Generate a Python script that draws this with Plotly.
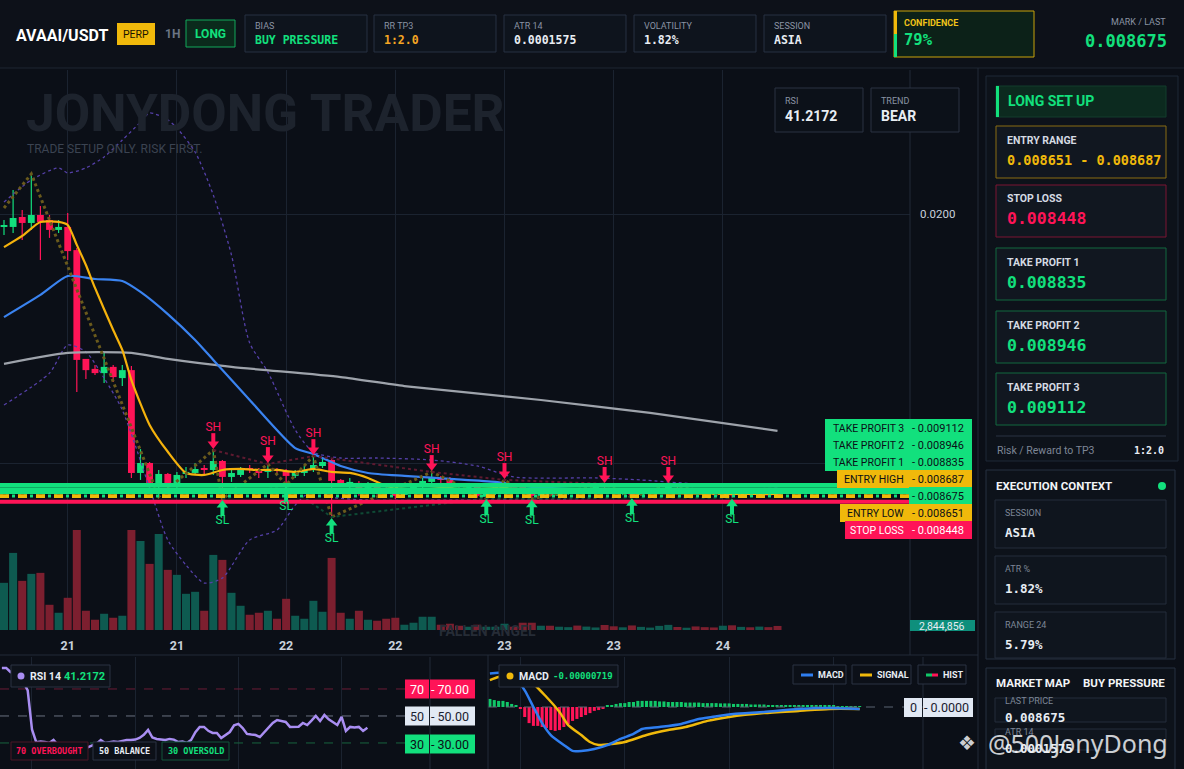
import plotly.graph_objects as go

W, H = 1184, 769
BG = "#0b0f17"
GRID = "#1b2330"
UP = "#12e07d"
DN = "#ff1457"
YEL = "#f0b90b"
SANS = "Roboto, Liberation Sans, sans-serif"
MONO = "DejaVu Sans Mono, monospace"

# ---- 1H candles, oldest first ----
opens = [0.01948, 0.01948, 0.01988, 0.01964, 0.01996, 0.01976, 0.01936, 0.01948, 0.01855, 0.01418,
         0.01378, 0.01361, 0.01386, 0.01341, 0.01373, 0.00960, 0.01000, 0.00912, 0.00956, 0.00912,
         0.00956, 0.00960, 0.00978, 0.00972, 0.01008, 0.00944, 0.00952, 0.00978, 0.00968, 0.00964,
         0.00974, 0.00968, 0.00948, 0.00960, 0.00972, 0.00988, 0.01012, 0.00932, 0.00916, 0.00920,
         0.00900, 0.00908, 0.00896, 0.00884, 0.00872, 0.00892, 0.00904, 0.00924, 0.00940, 0.00936,
         0.00908, 0.00900, 0.00904, 0.00864, 0.00880, 0.00888, 0.00912, 0.00904, 0.00884, 0.00868,
         0.00876, 0.00868, 0.00880, 0.00888, 0.00882, 0.00896, 0.00900, 0.00892, 0.00880, 0.00884,
         0.00872, 0.00884, 0.00890, 0.00896, 0.00900, 0.00888, 0.00892, 0.00884, 0.00880, 0.00876,
         0.00884, 0.00870, 0.00878, 0.00872, 0.00880, 0.00870]
highs = [0.01976, 0.02096, 0.02016, 0.02161, 0.02032, 0.01996, 0.01976, 0.02004, 0.01863, 0.01418,
         0.01394, 0.01446, 0.01394, 0.01394, 0.01390, 0.01056, 0.01004, 0.00972, 0.00960, 0.00964,
         0.00984, 0.01000, 0.00992, 0.01052, 0.01012, 0.00980, 0.00984, 0.00992, 0.00980, 0.00996,
         0.00980, 0.00976, 0.00972, 0.00988, 0.01028, 0.01020, 0.01020, 0.00936, 0.00940, 0.00928,
         0.00924, 0.00916, 0.00904, 0.00892, 0.00900, 0.00912, 0.00944, 0.00964, 0.00948, 0.00944,
         0.00916, 0.00912, 0.00912, 0.00892, 0.00896, 0.00932, 0.00920, 0.00912, 0.00892, 0.00884,
         0.00884, 0.00884, 0.00896, 0.00900, 0.00904, 0.00908, 0.00916, 0.00900, 0.00890, 0.00888,
         0.00888, 0.00896, 0.00904, 0.00916, 0.00906, 0.00896, 0.00900, 0.00892, 0.00890, 0.00888,
         0.00890, 0.00882, 0.00886, 0.00884, 0.00886, 0.00880]
lows = [0.01916, 0.01924, 0.01896, 0.01936, 0.01815, 0.01904, 0.01924, 0.01815, 0.01285, 0.01337,
        0.01353, 0.01321, 0.01325, 0.01309, 0.00940, 0.00932, 0.00900, 0.00864, 0.00880, 0.00892,
        0.00940, 0.00952, 0.00952, 0.00952, 0.00855, 0.00924, 0.00944, 0.00960, 0.00940, 0.00940,
        0.00956, 0.00912, 0.00940, 0.00948, 0.00964, 0.00980, 0.00783, 0.00904, 0.00900, 0.00868,
        0.00892, 0.00872, 0.00860, 0.00855, 0.00864, 0.00884, 0.00896, 0.00916, 0.00920, 0.00892,
        0.00896, 0.00892, 0.00860, 0.00858, 0.00872, 0.00880, 0.00892, 0.00868, 0.00856, 0.00864,
        0.00866, 0.00864, 0.00872, 0.00876, 0.00876, 0.00884, 0.00886, 0.00876, 0.00870, 0.00862,
        0.00868, 0.00876, 0.00882, 0.00888, 0.00884, 0.00878, 0.00880, 0.00872, 0.00870, 0.00868,
        0.00860, 0.00864, 0.00868, 0.00866, 0.00866, 0.00864]
closes = [0.01952, 0.01984, 0.01964, 0.01996, 0.01968, 0.01936, 0.01948, 0.01851, 0.01414, 0.01373,
          0.01361, 0.01386, 0.01345, 0.01373, 0.00960, 0.01000, 0.00912, 0.00956, 0.00908, 0.00952,
          0.00964, 0.00976, 0.00974, 0.01008, 0.00944, 0.00960, 0.00980, 0.00974, 0.00962, 0.00976,
          0.00970, 0.00948, 0.00964, 0.00972, 0.00992, 0.01004, 0.00928, 0.00916, 0.00924, 0.00896,
          0.00912, 0.00888, 0.00880, 0.00868, 0.00892, 0.00904, 0.00928, 0.00940, 0.00932, 0.00900,
          0.00904, 0.00906, 0.00868, 0.00884, 0.00888, 0.00916, 0.00900, 0.00876, 0.00868, 0.00878,
          0.00870, 0.00880, 0.00888, 0.00882, 0.00896, 0.00900, 0.00892, 0.00880, 0.00884, 0.00872,
          0.00884, 0.00890, 0.00896, 0.00900, 0.00888, 0.00892, 0.00884, 0.00880, 0.00876, 0.00884,
          0.00870, 0.00878, 0.00872, 0.00880, 0.00870, 0.008675]
# volume in millions
volume_m = [33.1, 54.1, 34.5, 39.4, 40.1, 17.7, 12.1, 22.6, 70.2, 13.5,
            7.2, 11.4, 8.6, 10.0, 70.2, 62.5, 46.4, 67.4, 42.2, 38.7,
            25.4, 26.8, 13.5, 52.7, 49.2, 26.1, 17.0, 10.7, 12.1, 13.5,
            7.9, 21.9, 10.0, 7.9, 20.5, 12.8, 50.6, 12.1, 7.9, 13.5,
            7.2, 6.5, 7.9, 8.6, 3.7, 5.1, 9.3, 9.3, 3.7, 4.4,
            3.0, 2.3, 3.7, 2.3, 2.3, 4.4, 2.3, 5.1, 5.1, 3.0,
            3.0, 2.3, 2.0, 3.1, 2.4, 1.8, 3.5, 2.6, 1.9, 3.2,
            2.2, 1.7, 2.9, 3.6, 2.1, 1.6, 2.5, 2.0, 1.8, 3.0,
            3.3, 2.2, 1.9, 2.4, 2.0, 2.844856]

# ---- overlays (candle index, price) ----
ema_fast_idx = [0, 2, 4, 6, 7, 8, 9, 10, 12, 13, 14, 16, 18, 20, 22, 24, 26, 28, 30, 32, 34, 36,
                38, 40, 42, 44, 46, 48, 50, 52, 55, 58, 62, 70, 80, 85]
ema_fast_val = [0.01867, 0.01912, 0.01968, 0.01968, 0.01956, 0.01876, 0.01795, 0.01703, 0.01534,
                0.01454, 0.01333, 0.01153, 0.01045, 0.00960, 0.00952, 0.00972, 0.00976, 0.00972,
                0.00972, 0.00964, 0.00976, 0.00964, 0.00960, 0.00940, 0.00908, 0.00896, 0.00892,
                0.00900, 0.00908, 0.00908, 0.00900, 0.00884, 0.00880, 0.00880, 0.00876, 0.00876]
ema_slow_idx = [0, 4, 7, 10, 13, 15, 18, 21, 23, 27, 32, 34, 37, 40, 44, 49, 54, 58, 62, 69, 85]
ema_slow_val = [0.01586, 0.01675, 0.01751, 0.01739, 0.01731, 0.01687, 0.01598, 0.01494, 0.01414,
                0.01253, 0.01060, 0.01036, 0.00988, 0.00960, 0.00948, 0.00936, 0.00924, 0.00904,
                0.00896, 0.00892, 0.00884]
sma_idx = [0, 7, 14, 18, 25, 37, 44, 59, 71, 85]
sma_val = [0.01398, 0.01442, 0.01442, 0.01418, 0.01386, 0.01345, 0.01309, 0.01253, 0.01201, 0.01129]
bb_up_idx = [0, 3, 6, 7, 9, 11, 13, 15, 16, 18, 19, 21, 23, 25, 27, 29, 32, 34, 37, 41, 47, 52,
             56, 65, 70, 76, 85]
bb_up_val = [0.02048, 0.02137, 0.02185, 0.02165, 0.02185, 0.02229, 0.02297, 0.02369, 0.02406,
             0.02378, 0.02345, 0.02249, 0.02076, 0.01835, 0.01482, 0.01365, 0.01133, 0.01044,
             0.01020, 0.01020, 0.01012, 0.00988, 0.00944, 0.00940, 0.00932, 0.00916, 0.00904]
bb_lo_idx = [0, 5, 7, 9, 11, 13, 16, 18, 20, 22, 24, 27, 30, 32, 34, 36, 40, 50, 60, 70, 85]
bb_lo_val = [0.01233, 0.01361, 0.01474, 0.01446, 0.01341, 0.01213, 0.00900, 0.00691, 0.00590,
             0.00518, 0.00538, 0.00691, 0.00731, 0.00831, 0.00892, 0.00863, 0.00851, 0.00851,
             0.00851, 0.00847, 0.00847]
zigzag_idx = [0, 3, 17, 23, 24, 29, 31, 34, 36, 47, 53, 55, 58, 66, 69, 73, 80]
zigzag_val = [0.02024, 0.02161, 0.00864, 0.01052, 0.00855, 0.00996, 0.00912, 0.01028, 0.00783,
              0.00964, 0.00858, 0.00932, 0.00856, 0.00916, 0.00862, 0.00916, 0.00860]
swing_high_idx = [23, 29, 34, 47, 55, 66, 73]
swing_low_idx = [24, 31, 36, 53, 58, 69, 80]

level_names = ["TAKE PROFIT 3", "TAKE PROFIT 2", "TAKE PROFIT 1", "ENTRY HIGH", "", "ENTRY LOW", "STOP LOSS"]
level_values = [0.009112, 0.008946, 0.008835, 0.008687, 0.008675, 0.008651, 0.008448]

tick_idx = [7, 19, 31, 43, 55, 67, 79]
tick_text = ["21", "21", "22", "22", "23", "23", "24"]

rsi = [85.6, 85.6, 82.6, 81.9, 79.6, 75.0, 69.0, 40.0, 30.5, 31.0,
       30.7, 30.0, 32.2, 28.5, 20.4, 21.1, 22.0, 23.0, 24.1, 25.5,
       27.0, 28.5, 29.5, 32.2, 30.0, 30.5, 31.0, 30.7, 31.5, 32.2,
       32.2, 32.5, 33.7, 36.0, 39.6, 34.0, 33.0, 32.8, 32.2, 33.0,
       32.5, 30.7, 31.0, 30.0, 32.2, 38.0, 41.9, 41.9, 39.0, 37.4,
       37.4, 33.7, 36.0, 38.1, 43.0, 44.1, 41.1, 36.7, 36.2, 35.9,
       34.4, 38.0, 41.9, 44.8, 47.0, 46.5, 45.6, 41.9, 41.9, 42.0,
       44.8, 43.3, 46.5, 50.0, 46.3, 50.7, 47.5, 45.6, 43.3, 49.3,
       38.9, 41.9, 41.5, 41.9, 38.9, 41.2172]

# MACD values in units of 1e-6
macd_idx = [0, 2, 5, 8, 10, 12, 14, 17, 19, 21, 24, 27, 30, 33, 35, 39, 44, 48, 51, 56, 63, 71, 78, 85]
macd_val = [121, 123, 119, 60, 0, -58, -101, -137, -158, -158, -151, -137, -115, -97, -79, -72,
            -61, -43, -36, -25, -18, -7, -4, -7.19]
signal_idx = [0, 2, 5, 9, 13, 16, 18, 21, 23, 25, 28, 31, 36, 41, 45, 50, 55, 63, 71, 78, 85]
signal_val = [97, 108, 112, 97, 36, -18, -65, -101, -126, -137, -133, -126, -101, -83, -72, -50,
              -36, -22, -14, -7, -7]
hist = [29, 25, 22, 22, 18, 11, 4, -7, -36, -58,
        -68, -68, -72, -76, -83, -86, -83, -72, -61, -50,
        -43, -36, -29, -22, -14, -11, -4, 4, 7, 11,
        14, 14, 18, 18, 22, 22, 22, 22, 22, 20,
        20, 18, 18, 18, 18, 16, 16, 16, 16, 14,
        14, 14, 14, 13, 13, 13, 11, 11, 11, 11,
        9, 9, 9, 9, 7, 7, 7, 7, 7, 5,
        5, 5, 5, 5, 4, 4, 4, 4, 4, 4,
        2, 2, 2, 2, 2, 2]

XR = [-0.44, 99.56]
PRICE_RANGE = [0.003293, 0.025783]
PXU = (PRICE_RANGE[1] - PRICE_RANGE[0]) / 560  # price per pixel in main pane

fig = go.Figure()
idx = list(range(len(closes)))
is_up = [c >= o for o, c in zip(opens, closes)]

# volume
fig.add_trace(go.Bar(x=idx, y=volume_m, width=0.88, xaxis="x", yaxis="y",
                     marker=dict(color=["#0e5a50" if u else "#7c1f2f" for u in is_up], line_width=0)))

# candle bodies + wicks
fig.add_trace(go.Bar(x=idx, base=[min(o, c) for o, c in zip(opens, closes)],
                     y=[max(abs(c - o), 0.00005) for o, c in zip(opens, closes)],
                     width=0.75, xaxis="x", yaxis="y2",
                     marker=dict(color=[UP if u else DN for u in is_up], line_width=0)))
for want, col in ((True, UP), (False, DN)):
    wx, wy = [], []
    for i in idx:
        if is_up[i] == want:
            wx += [i, i, None]
            wy += [lows[i], highs[i], None]
    fig.add_trace(go.Scatter(x=wx, y=wy, mode="lines", line=dict(color=col, width=1.2),
                             xaxis="x", yaxis="y2"))

# bands and averages
for xs, ys in ((bb_up_idx, bb_up_val), (bb_lo_idx, bb_lo_val)):
    fig.add_trace(go.Scatter(x=xs, y=ys, mode="lines", xaxis="x", yaxis="y2",
                             line=dict(color="#5540a8", width=1.3, dash="dot", shape="spline", smoothing=0.7)))
fig.add_trace(go.Scatter(x=sma_idx, y=sma_val, mode="lines", xaxis="x", yaxis="y2",
                         line=dict(color="#9ea3ab", width=2.2, shape="spline", smoothing=0.6)))
fig.add_trace(go.Scatter(x=ema_slow_idx, y=ema_slow_val, mode="lines", xaxis="x", yaxis="y2",
                         line=dict(color="#3a83f0", width=2.2, shape="spline", smoothing=0.6)))
fig.add_trace(go.Scatter(x=ema_fast_idx, y=ema_fast_val, mode="lines", xaxis="x", yaxis="y2",
                         line=dict(color="#f5b20c", width=2.2, shape="spline", smoothing=0.6)))

# swing structure
fig.add_trace(go.Scatter(x=zigzag_idx, y=zigzag_val, mode="lines", xaxis="x", yaxis="y2",
                         line=dict(color="#6a5a1c", width=3, dash="dot")))
fig.add_trace(go.Scatter(x=swing_high_idx, y=[highs[i] for i in swing_high_idx], mode="lines",
                         xaxis="x", yaxis="y2", line=dict(color="#5e1a30", width=2, dash="dot")))
fig.add_trace(go.Scatter(x=swing_low_idx, y=[lows[i] for i in swing_low_idx], mode="lines",
                         xaxis="x", yaxis="y2", line=dict(color="#0f4a35", width=2, dash="dot")))

# trade levels
level_style = [(UP, "solid", 4), (UP, "solid", 4), (UP, "solid", 4), (YEL, "dash", 3),
               (UP, "dot", 3), (YEL, "dash", 3), (DN, "solid", 4)]
order = [0, 1, 2, 4, 3, 5, 6]
for k in order:
    col, dash, w = level_style[k]
    fig.add_trace(go.Scatter(x=XR, y=[level_values[k]] * 2, mode="lines", xaxis="x", yaxis="y2",
                             line=dict(color=col, width=w, dash=dash)))

# swing markers
sh_p = [highs[i] for i in swing_high_idx]
sl_p = [lows[i] for i in swing_low_idx]
fig.add_trace(go.Scatter(x=swing_high_idx, y=[p + 12 * PXU for p in sh_p], mode="markers", xaxis="x", yaxis="y2",
                         marker=dict(symbol="line-ns", size=7, line=dict(width=4, color=DN))))
fig.add_trace(go.Scatter(x=swing_high_idx, y=[p + 6 * PXU for p in sh_p], mode="markers", xaxis="x", yaxis="y2",
                         marker=dict(symbol="triangle-down", size=10, color=DN)))
fig.add_trace(go.Scatter(x=swing_high_idx, y=[p + 22 * PXU for p in sh_p], mode="text", text=["SH"] * 7,
                         xaxis="x", yaxis="y2", textfont=dict(family=SANS, size=12, color=DN)))
fig.add_trace(go.Scatter(x=swing_low_idx, y=[p - 12 * PXU for p in sl_p], mode="markers", xaxis="x", yaxis="y2",
                         marker=dict(symbol="line-ns", size=7, line=dict(width=4, color=UP))))
fig.add_trace(go.Scatter(x=swing_low_idx, y=[p - 6 * PXU for p in sl_p], mode="markers", xaxis="x", yaxis="y2",
                         marker=dict(symbol="triangle-up", size=10, color=UP)))
fig.add_trace(go.Scatter(x=swing_low_idx, y=[p - 22 * PXU for p in sl_p], mode="text", text=["SL"] * 7,
                         xaxis="x", yaxis="y2", textfont=dict(family=SANS, size=12, color=UP)))

# RSI pane
for lvl, col in ((70, "#6a1c35"), (50, "#6b7280"), (30, "#17643f")):
    fig.add_trace(go.Scatter(x=XR, y=[lvl, lvl], mode="lines", xaxis="x2", yaxis="y3",
                             line=dict(color=col, width=1, dash="dash")))
fig.add_trace(go.Scatter(x=idx, y=rsi, mode="lines", xaxis="x2", yaxis="y3",
                         line=dict(color="#a98ef2", width=2.5)))

# MACD pane
fig.add_trace(go.Scatter(x=XR, y=[0, 0], mode="lines", xaxis="x3", yaxis="y4",
                         line=dict(color="#5b6472", width=1, dash="dash")))
fig.add_trace(go.Bar(x=idx, y=[v * 1e-6 for v in hist], width=0.7, xaxis="x3", yaxis="y4",
                     marker=dict(color=["#10c868" if v >= 0 else DN for v in hist], line_width=0)))
fig.add_trace(go.Scatter(x=signal_idx, y=[v * 1e-6 for v in signal_val], mode="lines", xaxis="x3", yaxis="y4",
                         line=dict(color=YEL, width=2.5, shape="spline", smoothing=0.6)))
fig.add_trace(go.Scatter(x=macd_idx, y=[v * 1e-6 for v in macd_val], mode="lines", xaxis="x3", yaxis="y4",
                         line=dict(color="#2f7ef0", width=2.5, shape="spline", smoothing=0.6)))

# ---- decorations in pixel space ----
shapes, notes = [], []


def fx(x):
    return x / W


def fy(y):
    return 1 - y / H


def box(x0, y0, x1, y1, fill, line=None, lw=1):
    shapes.append(dict(type="rect", xref="paper", yref="paper", x0=fx(x0), x1=fx(x1), y0=fy(y1), y1=fy(y0),
                       fillcolor=fill, line=dict(color=line or fill, width=lw if line else 0), layer="above"))


def seg(x0, y0, x1, y1, col, w=1):
    shapes.append(dict(type="line", xref="paper", yref="paper", x0=fx(x0), x1=fx(x1), y0=fy(y0), y1=fy(y1),
                       line=dict(color=col, width=w), layer="above"))


def dot(x, y, r, col):
    shapes.append(dict(type="circle", xref="paper", yref="paper", x0=fx(x - r), x1=fx(x + r),
                       y0=fy(y + r), y1=fy(y - r), fillcolor=col, line_width=0, layer="above"))


def txt(x, y, s, size, col, fam=SANS, anchor="left", bold=False):
    notes.append(dict(x=fx(x), y=fy(y), xref="paper", yref="paper", showarrow=False,
                      text=f"<b>{s}</b>" if bold else s, xanchor=anchor, yanchor="middle",
                      font=dict(size=size, color=col, family=fam)))


# header
box(0, 0, W, 68, "#0d1119")
seg(0, 68, W, 68, "#1f2632")
txt(14, 35, "AVAAI/USDT", 16, "#ffffff", bold=True)
box(117, 23, 155, 45, YEL)
txt(136, 34, "PERP", 10.5, "#1a1400", anchor="center")
txt(163, 34, "1H", 12, "#6b7585", bold=True)
box(186, 20, 235, 47, "#0b2a1c", "#12a85a")
txt(210.5, 34, "LONG", 12, UP, anchor="center", bold=True)
stats = [("BIAS", "BUY PRESSURE", UP, 245), ("RR TP3", "1:2.0", "#f5a623", 374),
         ("ATR 14", "0.0001575", "#e8edf3", 504), ("VOLATILITY", "1.82%", "#e8edf3", 634),
         ("SESSION", "ASIA", "#e8edf3", 764)]
for lab, val, col, x0 in stats:
    box(x0, 15, x0 + 122, 52, "#0e141d", "#273142")
    txt(x0 + 8, 26, lab, 9, "#8a93a3")
    txt(x0 + 8, 40, val, 11.5, col, fam=MONO, bold=True)
box(894, 11, 1034, 57, "#0c2118", "#c9a30a")
box(894, 11, 897, 34, YEL)
box(894, 34, 897, 57, UP)
txt(902, 23, "CONFIDENCE", 9, "#f0c419", bold=True)
txt(902, 40, "79%", 15.5, UP, fam=MONO, bold=True)
txt(1168, 22, "MARK / LAST", 9, "#8a93a3", anchor="right")
txt(1169, 41, "0.008675", 17, UP, fam=MONO, anchor="right", bold=True)

# chart frame
seg(910, 70, 910, 655, "#222b38")
seg(978, 68, 978, H, "#222b38")
seg(0, 655, 978, 655, "#222b38")
seg(430, 657, 430, H, "#222b38")
seg(488, 655, 488, H, "#222b38")
seg(923, 657, 923, H, "#222b38")

# watermark / stat boxes on the chart
txt(24, 113, "JONYDONG TRADER", 51.5, "#1d232d", bold=True)
txt(25, 149, "TRADE SETUP ONLY. RISK FIRST.", 12, "#3b4351")
txt(487, 631, "FALLEN ANGEL", 14, "#262c36", anchor="center", bold=True)
for x0, lab, val in ((775, "RSI", "41.2172"), (871, "TREND", "BEAR")):
    box(x0, 88, x0 + 88, 132, "#0c1119", "#2a3342")
    txt(x0 + 8, 101, lab, 9, "#8a93a3")
    txt(x0 + 8, 116, val, 14, "#e8edf3", bold=True)
txt(918, 214, "0.0200", 11.5, "#c9d1dc")

# level tags on the price scale
name_x0 = [825, 825, 825, 837, None, 840, 845]
tag_col = [UP, UP, UP, YEL, UP, YEL, DN]
for k in range(len(level_values)):
    yc = 428 + 17 * k
    tc = "#ffffff" if tag_col[k] == DN else "#0b0f17"
    if name_x0[k] is not None:
        box(name_x0[k], yc - 9, 909, yc + 9, tag_col[k])
        txt(906, yc, level_names[k], 10.5, tc, anchor="right")
    box(909, yc - 9, 972, yc + 9, tag_col[k])
    txt(910, yc, f"- {level_values[k]:.6f}", 11, tc)
box(910, 620, 975, 631, "#0e8f7c")
txt(942, 626, f"{volume_m[-1] * 1e6:,.0f}", 10.5, "#e8edf3", anchor="center")

# right panel: setup
box(986, 76, 1178, 461, "#0d121a", "#1e2836")
box(996, 86, 1166, 117, "#0c2a1f", "#123d2c")
box(996, 86, 999, 117, UP)
txt(1006, 101, "LONG SET UP", 14, UP, bold=True)
cards = [("ENTRY RANGE", f"{level_values[5]:.6f} - {level_values[3]:.6f}", YEL, "#8a6d12", 126, 13.5),
         ("STOP LOSS", f"{level_values[6]:.6f}", DN, "#7d1533", 185, 16.5),
         ("TAKE PROFIT 1", f"{level_values[2]:.6f}", UP, "#13683f", 248, 16.5),
         ("TAKE PROFIT 2", f"{level_values[1]:.6f}", UP, "#13683f", 311, 16.5),
         ("TAKE PROFIT 3", f"{level_values[0]:.6f}", UP, "#13683f", 373, 16.5)]
for lab, val, col, edge, y0, fs in cards:
    box(996, y0, 1166, y0 + 52, "#111720", edge)
    txt(1005, y0 + 14, lab, 10.5, "#d5dae2", bold=True)
    txt(1005, y0 + 34, val, fs, col, fam=MONO, bold=True)
seg(996, 436, 1166, 436, "#2a3342")
txt(995, 450, "Risk / Reward to TP3", 10.5, "#7d8696")
txt(1166, 450, "1:2.0", 10, "#e8edf3", fam=MONO, anchor="right", bold=True)

# right panel: execution context
box(986, 470, 1175, 659, "#0d121a", "#263040")
txt(994, 486, "EXECUTION CONTEXT", 11.5, "#f2f4f7", bold=True)
dot(1162, 486, 4, UP)
for lab, val, y0 in (("SESSION", "ASIA", 500), ("ATR %", "1.82%", 556), ("RANGE 24", "5.79%", 612)):
    box(995, y0, 1166, min(y0 + 48, 658), "#0f151e", "#242d3b")
    txt(1003, y0 + 13, lab, 9, "#7d8696")
    txt(1003, y0 + 32, val, 12.5, "#e8edf3", fam=MONO, bold=True)
box(986, 668, 1175, 775, "#0d121a", "#263040")
txt(994, 683, "MARKET MAP", 11.5, "#f2f4f7", bold=True)
txt(1167, 683, "BUY PRESSURE", 11.5, "#f2f4f7", anchor="right", bold=True)
for lab, val, y0, y1 in (("LAST PRICE", "0.008675", 698, 722), ("ATR 14", "0.0001575", 729, 750)):
    box(995, y0, 1166, y1, "#0f151e", "#242d3b")
    txt(1003, y0 + 3, lab, 9, "#7d8696")
    txt(1003, y0 + 19, val, 12.5, "#e8edf3", fam=MONO, bold=True)
txt(967, 743, "❖", 20, "rgba(240,242,245,0.85)", fam="DejaVu Sans", anchor="center")
txt(986, 743, "@500JonyDong", 25, "rgba(240,242,245,0.85)", fam="Noto Sans")

# RSI pane tags
box(11, 665, 110, 687, "#0e131b", "#2a3342")
dot(21, 676, 3.5, "#a98ef2")
txt(28, 676, "RSI 14", 10.5, "#e8edf3", bold=True)
txt(62, 676, f"{rsi[-1]:.4f}", 11, UP, bold=True)
for x0, x1, lab, col, edge in ((11, 88, "70 OVERBOUGHT", DN, "#4a1626"), (93, 156, "50 BALANCE", "#e8edf3", "#2a3342"),
                               (162, 229, "30 OVERSOLD", UP, "#12553a")):
    box(x0, 742, x1, 760, "#0c1018", edge)
    txt((x0 + x1) / 2, 751, lab, 8.5, col, fam=MONO, anchor="center", bold=True)
for lvl, yc, col, tc in ((70, 689, DN, "#ffffff"), (50, 716, "#e2e9f4", "#1a2030"), (30, 744, UP, "#0b0f17")):
    box(405, yc - 9.5, 429, yc + 9.5, col)
    box(430, yc - 9.5, 475, yc + 9.5, col)
    txt(417, yc, str(lvl), 12.5, tc, anchor="center")
    txt(429, yc, f"- {lvl:.2f}", 12.5, tc)

# MACD pane tags
box(499, 665, 618, 687, "#0e131b", "#2a3342")
dot(510, 676, 3.5, YEL)
txt(517, 676, "MACD", 10.5, "#e8edf3", bold=True)
txt(551, 676, f"{macd_val[-1] * 1e-6:.8f}", 9, UP, fam=MONO, bold=True)
for x0, x1, lab, c1, c2 in ((793, 846, "MACD", "#2f7ef0", "#2f7ef0"), (852, 911, "SIGNAL", YEL, YEL),
                            (918, 966, "HIST", "#10c868", DN)):
    box(x0, 665, x1, 684, "#0c1018", "#2a3342")
    box(x0 + 8, 673.5, x0 + 14, 676.5, c1)
    box(x0 + 14, 673.5, x0 + 20, 676.5, c2)
    txt(x0 + 23, 675, lab, 9, "#e8edf3", bold=True)
box(904, 698, 922, 717, "#e2e9f4")
box(923, 698, 973, 717, "#e2e9f4")
txt(913, 707.5, "0", 12.5, "#1a2030", anchor="center")
txt(922, 707.5, "- 0.0000", 12.5, "#1a2030")

fig.update_layout(
    width=W, height=H, margin=dict(l=0, r=0, t=0, b=0),
    paper_bgcolor=BG, plot_bgcolor=BG, showlegend=False, hovermode=False,
    barmode="overlay", dragmode=False,
    xaxis=dict(domain=[0, 910 / W], range=XR, tickvals=tick_idx, ticktext=tick_text, showgrid=True,
               gridcolor=GRID, zeroline=False, showline=False, ticks="", anchor="y", ticklabelstandoff=6,
               tickfont=dict(family=SANS, size=12.5, color="#c9d1dc", weight="bold")),
    yaxis=dict(domain=[1 - 630 / H, 1 - 70 / H], range=[0, 393], visible=False, anchor="x"),
    yaxis2=dict(overlaying="y", range=PRICE_RANGE, tickvals=[0.01, 0.02], showgrid=True, gridcolor=GRID,
                showticklabels=False, zeroline=False, anchor="x"),
    xaxis2=dict(domain=[0, 430 / W], range=XR, tickvals=[7, 31, 55, 79], showgrid=True, gridcolor=GRID,
                showticklabels=False, zeroline=False, anchor="y3"),
    yaxis3=dict(domain=[0, 1 - 657 / H], range=[10.7, 93.7], visible=False, anchor="x2"),
    xaxis3=dict(domain=[488 / W, 923 / W], range=XR, tickvals=[7, 31, 55, 79], showgrid=True, gridcolor=GRID,
                showticklabels=False, zeroline=False, anchor="y4"),
    yaxis4=dict(domain=[0, 1 - 657 / H], range=[-223.2e-6, 180e-6], visible=False, anchor="x3"),
    shapes=shapes, annotations=notes,
)

fig.write_html("out.html", config={"displayModeBar": False},
               post_script="document.body.style.margin='0';document.body.style.overflow='hidden';")
